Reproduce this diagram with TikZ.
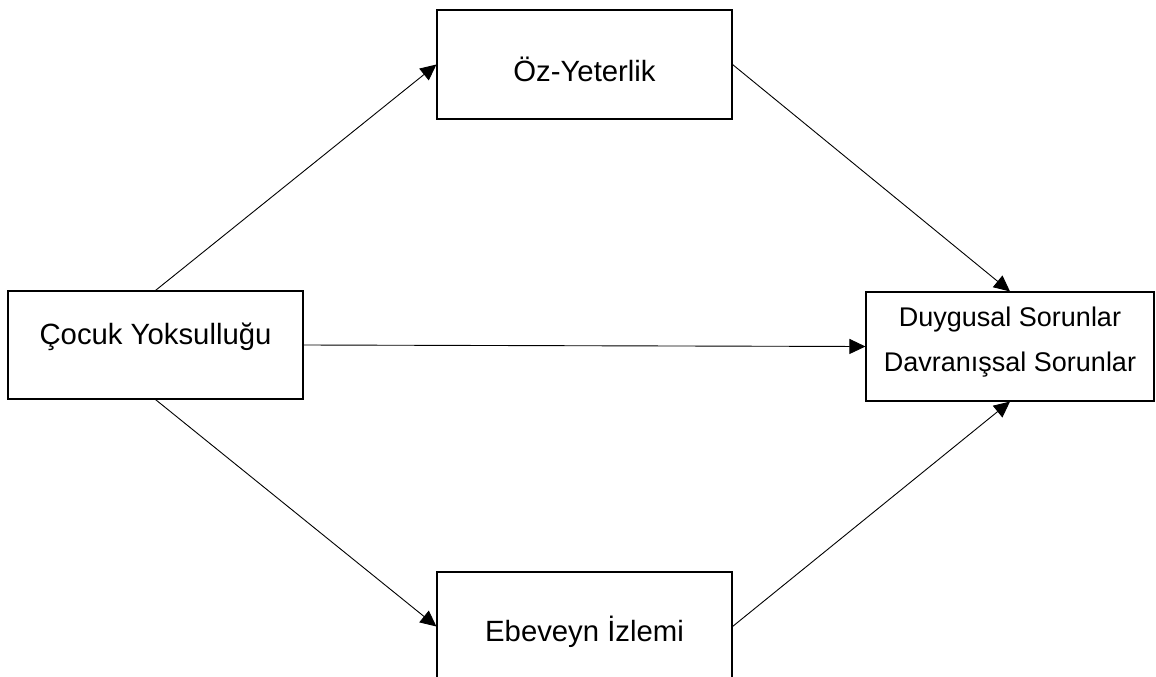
\documentclass[tikz,border=0pt]{standalone}
\usepackage{fontspec}
\setmainfont{Liberation Sans}
\usetikzlibrary{arrows.meta}

\begin{document}
\begin{tikzpicture}[x=1pt,y=-1pt,->,>={Triangle[length=16pt,width=15pt]},line width=0.9pt]
  \tikzstyle{kutu}=[draw,rectangle,inner sep=0pt,line width=1.1pt,minimum width=295pt,minimum height=109pt,font=\fontsize{29.3}{34}\selectfont]
  \useasboundingbox (0,0) rectangle (1156,677);
  \clip (0,0) rectangle (1156,677);

  \node[kutu,text height=34.4pt,text depth=0pt] (oz)      at (584.5,64.5)  {Öz-Yeterlik};
  \node[kutu,minimum height=108pt,text height=5pt,text depth=7pt] (cocuk) at (155.5,345) {Çocuk Yoksulluğu};
  \node[kutu,text height=30.4pt,text depth=0pt] (ebeveyn) at (584.5,626.5) {Ebeveyn İzlemi};
  \node[kutu,minimum width=288pt,align=center,text height=55pt,text depth=4.6pt,
        font=\fontsize{27}{45}\selectfont] (duygu) at (1010,346.5) {Duygusal Sorunlar\\Davranışsal Sorunlar};

  \path (cocuk.north)  edge (oz.west)
        (oz.east)      edge (duygu.north)
        (cocuk.east)   edge (duygu.west)
        (cocuk.south)  edge (ebeveyn.west)
        (ebeveyn.east) edge (duygu.south);
\end{tikzpicture}
\end{document}
